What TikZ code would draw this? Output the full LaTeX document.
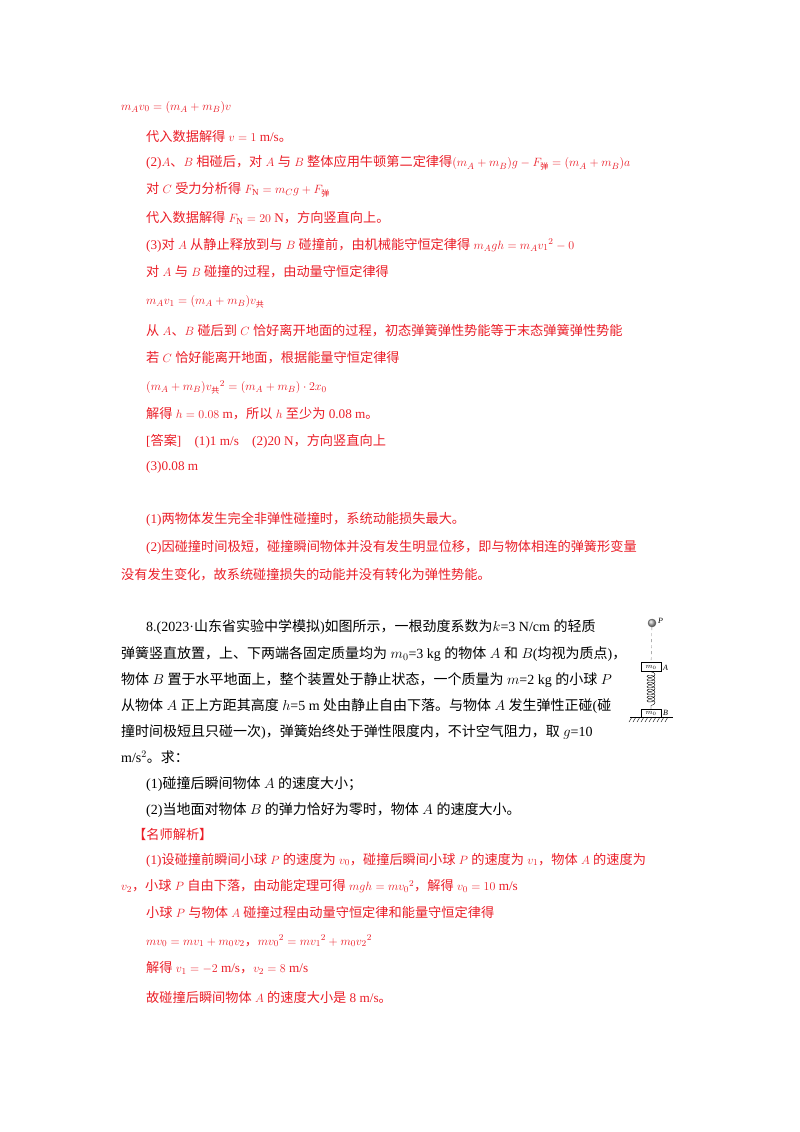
\documentclass[tikz,border=0pt]{standalone}
\usepackage{fontspec}
\setmainfont{Liberation Serif}
\newfontfamily\cj{Noto Sans CJK SC}
\usetikzlibrary{decorations.pathmorphing}
\newcommand\z[1]{{\cj #1}}
\newcommand\zs[1]{\mbox{\cj\fontsize{8}{9}\selectfont #1}}
\definecolor{rd}{RGB}{235,30,40}
\begin{document}
\begin{tikzpicture}[x=1pt,y=-1pt,
  r/.style={anchor=west,inner sep=0pt,text=rd,font=\fontsize{13.2}{15}\selectfont},
  k/.style={anchor=west,inner sep=0pt,text=black,font=\fontsize{14}{16}\selectfont},
  e/.style={anchor=west,inner sep=0pt,text=rd,font=\fontsize{13}{15}\selectfont}]
\useasboundingbox[fill=white] (0,0) rectangle (800,1132);
\node[e] (l1) at (121,107) {$m_A v_0=(m_A+m_B)v$};
\node[r] (l2) at (146,136) {\z{代入数据解得} $v=1$ m/s\z{。}};
\node[r] (l3) at (146,163) {(2)$A$\z{、}$B$ \z{相碰后，对} $A$ \z{与} $B$ \z{整体应用牛顿第二定律得}$(m_A+m_B)g-F_{\zs{弹}}=(m_A+m_B)a$};
\node[r] (l4) at (146,190) {\z{对} $C$ \z{受力分析得} $F_{\mathrm{N}}=m_Cg+F_{\zs{弹}}$};
\node[r] (l5) at (146,218) {\z{代入数据解得} $F_{\mathrm{N}}=20$ N\z{，方向竖直向上。}};
\node[r] (l6) at (146,245) {(3)\z{对} $A$ \z{从静止释放到与} $B$ \z{碰撞前，由机械能守恒定律得} $m_Agh=m_A{v_1}^{2}-0$};
\node[r] (l7) at (146,272) {\z{对} $A$ \z{与} $B$ \z{碰撞的过程，由动量守恒定律得}};
\node[e] (l8) at (146,302) {$m_Av_1=(m_A+m_B)v_{\zs{共}}$};
\node[r] (l9) at (146,331) {\z{从} $A$\z{、}$B$ \z{碰后到} $C$ \z{恰好离开地面的过程，初态弹簧弹性势能等于末态弹簧弹性势能}};
\node[r] (l10) at (146,358) {\z{若} $C$ \z{恰好能离开地面，根据能量守恒定律得}};
\node[e] (l11) at (146,387) {$(m_A+m_B){v_{\zs{共}}}^{2}=(m_A+m_B)\cdot 2x_0$};
\node[r] (l12) at (146,414) {\z{解得} $h=0.08$ m\z{，所以} $h$ \z{至少为} 0.08 m\z{。}};
\node[r] (l13) at (146,441) {[\z{答案}]\quad(1)1 m/s\quad(2)20 N\z{，方向竖直向上}};
\node[r] (l14) at (146,467) {(3)0.08 m};
\node[r] (l15) at (146,519) {(1)\z{两物体发生完全非弹性碰撞时，系统动能损失最大。}};
\node[r] (l16) at (146,547) {(2)\z{因碰撞时间极短，碰撞瞬间物体并没有发生明显位移，即与物体相连的弹簧形变量}};
\node[r] (l17) at (121,575) {\z{没有发生变化，故系统碰撞损失的动能并没有转化为弹性势能。}};
\node[k] (p1) at (146,627) {8.(2023·\z{山东省实验中学模拟})\z{如图所示，一根劲度系数为}$k$=3 N/cm \z{的轻质}};
\node[k] (p2) at (121,654) {\z{弹簧竖直放置，上、下两端各固定质量均为} $m_0$=3 kg \z{的物体} $A$ \z{和} $B$(\z{均视为质点})\z{，}};
\node[k] (p3) at (121,680) {\z{物体} $B$ \z{置于水平地面上，整个装置处于静止状态，一个质量为} $m$=2 kg \z{的小球} $P$};
\node[k] (p4) at (121,706) {\z{从物体} $A$ \z{正上方距其高度} $h$=5 m \z{处由静止自由下落。与物体} $A$ \z{发生弹性正碰}(\z{碰}};
\node[k] (p5) at (121,732) {\z{撞时间极短且只碰一次})\z{，弹簧始终处于弹性限度内，不计空气阻力，取} $g$=10};
\node[k] (p6) at (121,757) {m/s$^2$\z{。求：}};
\node[k] (p7) at (146,784) {(1)\z{碰撞后瞬间物体} $A$ \z{的速度大小；}};
\node[k] (p8) at (146,810) {(2)\z{当地面对物体} $B$ \z{的弹力恰好为零时，物体} $A$ \z{的速度大小。}};
\node[r] (s0) at (133,834) {\z{【名师解析】}};
\node[r] (s1) at (146,860) {(1)\z{设碰撞前瞬间小球} $P$ \z{的速度为} $v_0$\z{，碰撞后瞬间小球} $P$ \z{的速度为} $v_1$\z{，物体} $A$ \z{的速度为}};
\node[r] (s2) at (121,886) {$v_2$\z{，小球} $P$ \z{自由下落，由动能定理可得} $mgh=m{v_0}^{2}$\z{，解得} $v_0=10$ m/s};
\node[r] (s3) at (146,912) {\z{小球} $P$ \z{与物体} $A$ \z{碰撞过程由动量守恒定律和能量守恒定律得}};
\node[e] (s4) at (146,941) {$mv_0=mv_1+m_0v_2$\z{，}$m{v_0}^{2}=m{v_1}^{2}+m_0{v_2}^{2}$};
\node[r] (s5) at (146,968) {\z{解得} $v_1=-2$ m/s\z{，}$v_2=8$ m/s};
\node[r] (s6) at (146,997) {\z{故碰撞后瞬间物体} $A$ \z{的速度大小是} 8 m/s\z{。}};
% figure
\node[circle,draw=gray!70!black,ball color=gray!60,minimum size=8pt,inner sep=0pt] (ball) at (652,623) {};
\node[anchor=west,inner sep=1pt,font=\fontsize{8}{9}\selectfont\itshape] (lp) at (657,621) {P};
\node[draw,minimum width=20pt,minimum height=9pt,inner sep=0pt,font=\fontsize{7}{8}\selectfont] (ba) at (651,667) {$m_0$};
\node[anchor=west,inner sep=1pt,font=\fontsize{8}{9}\selectfont\itshape] (la) at (662,668) {A};
\node[draw,minimum width=20pt,minimum height=8pt,inner sep=0pt,font=\fontsize{7}{8}\selectfont] (bb) at (651,713) {$m_0$};
\node[anchor=west,inner sep=1pt,font=\fontsize{8}{9}\selectfont\itshape] (lb) at (662,713) {B};
\draw[dashed,gray] (ball) -- (ba);
\draw[decorate,decoration={coil,segment length=3.5pt,amplitude=4pt,aspect=0.5}] (ba.south) -- (bb.north);
\coordinate (g1) at (630,717);
\coordinate (g2) at (673,717);
\draw (g1) -- (g2);
\foreach \i in {0,...,9} \draw (632+4*\i,717) -- (629+4*\i,722);
\end{tikzpicture}
\end{document}
